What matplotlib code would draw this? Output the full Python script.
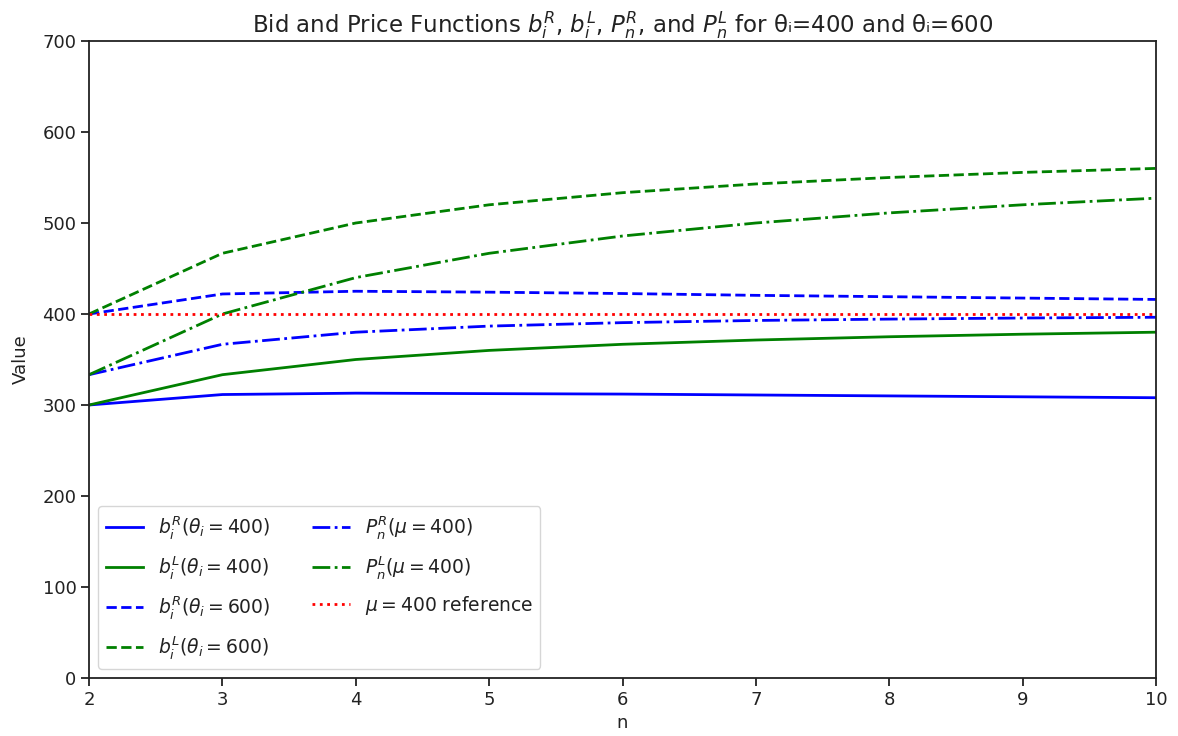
import matplotlib
matplotlib.use('Agg')
import matplotlib.pyplot as plt

n_vals = [2, 3, 4, 5, 6, 7, 8, 9, 10]

# bids, theta_i = 400
bR_400 = [300, 311.5, 313, 312.5, 312, 311, 310, 309, 308]
bL_400 = [300, 333.3, 350, 360, 366.7, 371.4, 375, 377.8, 380]
# bids, theta_i = 600
bR_600 = [400, 422, 425, 424, 422.5, 420.5, 419, 417.5, 416]
bL_600 = [400, 466.7, 500, 520, 533.3, 542.9, 550, 555.6, 560]
# prices, mu = 400
PR = [333.3, 366.7, 380, 386.7, 390.5, 392.9, 394.4, 395.6, 396.4]
PL = [333.3, 400, 440, 466.7, 485.7, 500, 511.1, 520, 527.3]
mu = 400

fig = plt.figure(figsize=(11.78, 7.36), dpi=100)
ax = fig.add_axes([0.0756, 0.0788, 0.9057, 0.8655])

ax.plot(n_vals, bR_400, color='blue', linestyle='-', lw=2, label=r'$b_i^R(\theta_i=400)$')
ax.plot(n_vals, bL_400, color='green', linestyle='-', lw=2, label=r'$b_i^L(\theta_i=400)$')
ax.plot(n_vals, bR_600, color='blue', linestyle='--', lw=2, label=r'$b_i^R(\theta_i=600)$')
ax.plot(n_vals, bL_600, color='green', linestyle='--', lw=2, label=r'$b_i^L(\theta_i=600)$')
ax.plot(n_vals, PR, color='blue', linestyle='-.', lw=2, label=r'$P_n^R(\mu=400)$')
ax.plot(n_vals, PL, color='green', linestyle='-.', lw=2, label=r'$P_n^L(\mu=400)$')
ax.axhline(mu, color='red', linestyle=':', lw=2, label=r'$\mu=400$ reference')

ax.set_xlim(2, 10)
ax.set_ylim(0, 700)
ax.tick_params(labelsize=13, width=1.3, length=5.5, colors='#222222')
for s in ax.spines.values():
    s.set_linewidth(1.3)
    s.set_color('#222222')
ax.set_xlabel('n', fontsize=13, color='#222222')
ax.set_ylabel('Value', fontsize=13, color='#222222', labelpad=9)
ax.set_title(r'Bid and Price Functions $b_i^R$, $b_i^L$, $P_n^R$, and $P_n^L$ for θᵢ=400 and θᵢ=600',
             fontsize=16.5, color='#222222')
leg = ax.legend(loc='lower left', ncol=2, fontsize=13.5, labelspacing=0.7, columnspacing=2.2)
for t in leg.get_texts():
    t.set_color('#222222')

plt.savefig('out.png')
